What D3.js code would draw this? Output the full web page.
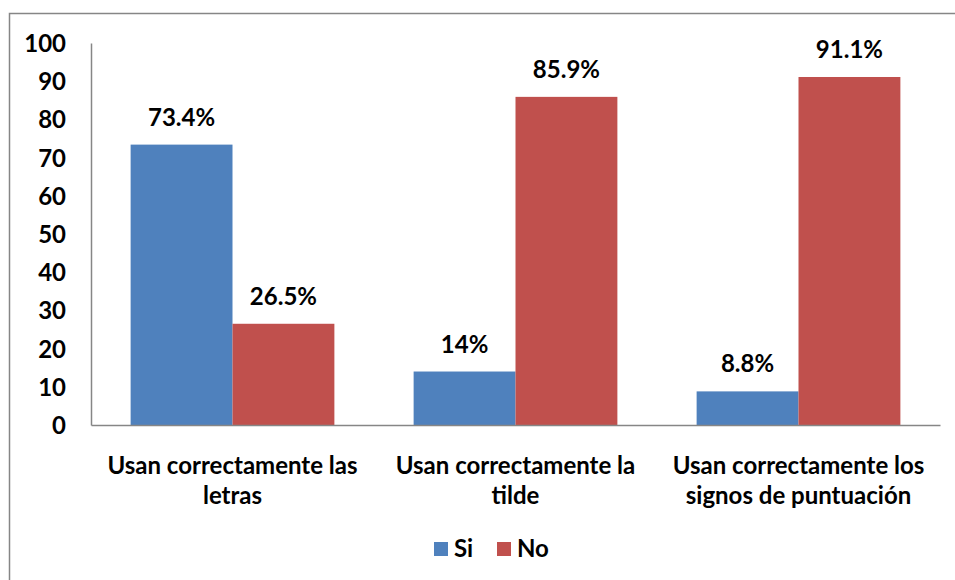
<!DOCTYPE html>
<html>
<head>
<meta charset="utf-8">
<script src="https://cdn.jsdelivr.net/npm/d3@7"></script>
<style>
  body { margin: 0; background: #fff; }
  text { font-family: Lato, "Open Sans", sans-serif; font-weight: bold; fill: #000; }
</style>
</head>
<body>
<div id="chart"></div>
<script>
// Chart data
const categories = [
  ['Usan correctamente las', 'letras'],
  ['Usan correctamente la', 'tilde'],
  ['Usan correctamente los', 'signos de puntuación']
];
const seriesNames = ['Si', 'No'];
const siValues = [73.4, 14, 8.8];
const noValues = [26.5, 85.9, 91.1];
const valueLabels = [['73.4%', '26.5%'], ['14%', '85.9%'], ['8.8%', '91.1%']];
const yTicks = [0, 10, 20, 30, 40, 50, 60, 70, 80, 90, 100];

let
w = 955, h = 580,
padL = 91, padR = 940, padT = 43, padB = 425,
colors = ['#4F81BD', '#C0504D'],
fs = 24;

const svg = d3.select('#chart').append('svg').attr('width', w).attr('height', h);

// Outer frame
svg.append('rect').attr('x', 9.5).attr('y', 13.5).attr('width', 960).attr('height', 600)
  .attr('fill', 'none').attr('stroke', '#868686').attr('stroke-width', 1.5);

const x0 = d3.scaleBand().domain(d3.range(categories.length)).range([padL, padR]).paddingInner(0.28).paddingOuter(0.14);
const x1 = d3.scaleBand().domain(seriesNames).range([0, x0.bandwidth()]);
const y = d3.scaleLinear().domain([0, 100]).range([padB, padT]);

// Bars
const rows = categories.map((c, i) => [siValues[i], noValues[i]]);
const g = svg.selectAll('g.grp').data(rows).enter().append('g')
  .attr('transform', (d, i) => 'translate(' + x0(i) + ',0)');
g.selectAll('rect').data(d => d).enter().append('rect')
  .attr('x', (d, j) => x1(seriesNames[j]))
  .attr('y', d => y(d))
  .attr('width', x1.bandwidth())
  .attr('height', d => padB - y(d))
  .attr('fill', (d, j) => colors[j]);
g.selectAll('text').data((d, i) => d.map((v, j) => ({v, lab: valueLabels[i][j], j}))).enter().append('text')
  .attr('x', d => x1(seriesNames[d.j]) + x1.bandwidth() / 2)
  .attr('y', d => y(d.v) - 19)
  .attr('text-anchor', 'middle')
  .style('font-size', fs + 'px')
  .text(d => d.lab);

// Y axis
const yAxis = d3.axisLeft(y).tickValues(yTicks).tickSize(0).tickPadding(25);
const ya = svg.append('g').attr('transform', 'translate(' + padL + ',0)').call(yAxis);
ya.select('.domain').attr('stroke', '#868686').attr('stroke-width', 1.5);
ya.selectAll('text').style('font-size', fs + 'px').attr('dy', '0.35em');

// X axis
const xa = svg.append('g').attr('transform', 'translate(0,' + padB + ')')
  .call(d3.axisBottom(d3.scaleLinear().range([padL, padR])).tickValues([]).tickSizeOuter(0));
xa.select('.domain').attr('stroke', '#868686').attr('stroke-width', 1.5);

// Category labels
categories.forEach((lines, i) => {
  const t = svg.append('text').attr('text-anchor', 'middle').style('font-size', fs + 'px')
    .attr('x', x0(i) + x0.bandwidth() / 2);
  lines.forEach((ln, k) => t.append('tspan').attr('x', x0(i) + x0.bandwidth() / 2)
    .attr('y', 474 + k * 30).text(ln));
});

// Legend
const legend = svg.append('g').attr('transform', 'translate(434,542)');
const lx = [0, 63];
seriesNames.forEach((s, j) => {
  legend.append('rect').attr('x', lx[j]).attr('y', 0).attr('width', 14).attr('height', 14).attr('fill', colors[j]);
  legend.append('text').attr('x', lx[j] + 20).attr('y', 15).style('font-size', fs + 'px').text(s);
});
</script>
</body>
</html>
